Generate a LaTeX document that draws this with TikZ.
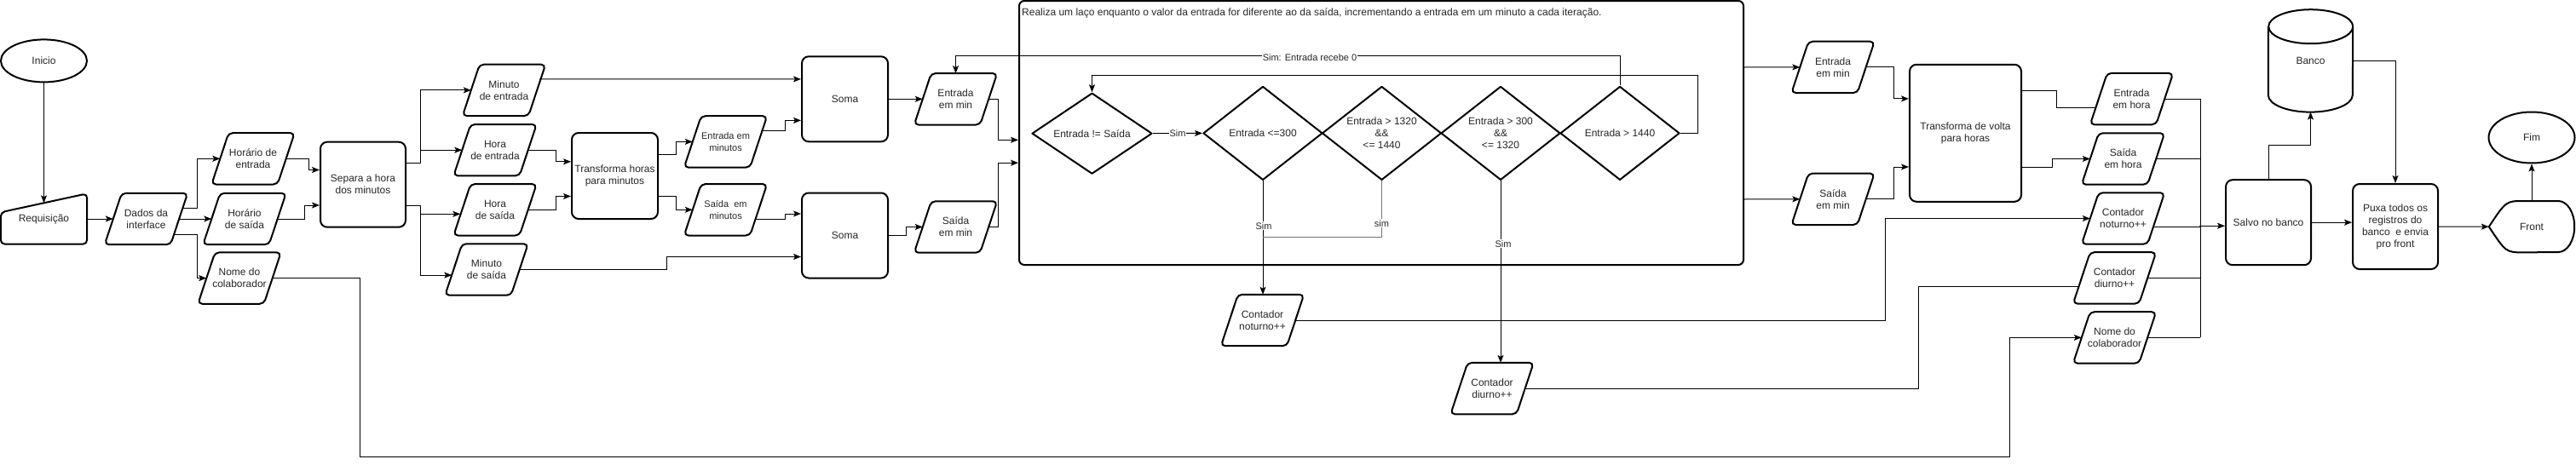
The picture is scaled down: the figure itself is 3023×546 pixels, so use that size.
\documentclass[tikz,border=0pt]{standalone}
\usepackage{fontspec}
\setmainfont{Liberation Sans}
\usetikzlibrary{shapes.geometric,arrows.meta}
\definecolor{txt}{HTML}{262626}
\tikzset{
  mainfont/.style={font=\fontsize{12}{14}\selectfont, text=txt},
  smallfont/.style={font=\fontsize{11}{13.5}\selectfont, text=txt},
  shp/.style={line width=2pt, line join=round},
  pshape/.style={shp, rounded corners=5pt},
  conn/.style={line width=1pt},
  arr/.style={conn, -{Stealth[length=9pt,width=7pt,inset=2pt]}},
  pnode/.style={rectangle, minimum width=77pt, minimum height=60pt, inner sep=0pt, align=center, mainfont},
  small/.style={smallfont},
  plain/.style={rectangle, inner sep=0pt, align=center, mainfont},
  box/.style={shp, draw, rectangle, rounded corners=8pt, minimum width=100pt, minimum height=100pt, inner sep=0pt, align=center, mainfont},
  term/.style={shp, draw, ellipse, minimum width=101pt, minimum height=50pt, inner sep=0pt, mainfont},
  dia/.style={shp, draw, diamond, minimum width=140pt, minimum height=110pt, aspect=1.27, inner sep=0pt, align=center, mainfont},
  cont/.style={shp, draw, rectangle, rounded corners=6pt, minimum width=850pt, minimum height=310pt, inner sep=0pt},
  lbl/.style={fill=white, inner sep=1pt, smallfont},
}
\newcommand\paral[4][]{%
  \node[pnode,#1] (#2) at (#3) {#4};
  \draw[pshape] ([xshift=-10pt]#2.south west) -- ([xshift=10pt]#2.north west) -- ([xshift=10pt]#2.north east) -- ([xshift=-10pt]#2.south east) -- cycle;
}
\begin{document}
\begin{tikzpicture}[x=1pt,y=-1pt]
\useasboundingbox (0,0) rectangle (3023,546);

% loop container
\node[cont] (loop) at (1621,156) {};
\node[anchor=west, mainfont, inner sep=0pt] (looptxt) at (1199,15) {Realiza um laço enquanto o valor da entrada for diferente ao da saída, incrementando a entrada em um minuto a cada iteração.};

% start
\node[term] (inicio) at (51.5,71.4) {Inicio};
\node[pnode, minimum width=101pt, minimum height=59pt] (req) at (51.5,257) {Requisição};
\draw[pshape] (req.south west) -- ([yshift=-22pt]req.north west) -- (req.north east) -- (req.south east) -- cycle;

\paral{dados}{171.5,257}{Dados da\\interface}
\paral{hent}{297,186.3}{Horário de\\entrada}
\paral{hsai}{287,257}{Horário\\de saída}
\paral{nome1}{281,326.6}{Nome do\\colaborador}
\node[box] (separa) at (426,216.7) {Separa a hora\\dos minutos};
\paral{minent}{591.5,105.9}{Minuto\\de entrada}
\paral{horaent}{581,176.2}{Hora\\de entrada}
\paral{horasai}{581,246.3}{Hora\\de saída}
\paral{minsai}{571,316.5}{Minuto\\de saída}
\node[box, minimum width=101pt, minimum height=101pt] (trans1) at (721.5,206.5) {Transforma horas\\para minutos};
\paral[small]{entmin1}{851.5,166.4}{Entrada em\\minutos}
\paral[small]{saimin1}{851.5,246.3}{Saída\ \ em\\minutos}
\node[box, minimum width=101pt] (soma1) at (991.5,116.3) {Soma};
\node[box, minimum width=101pt] (soma2) at (991.5,276.5) {Soma};
\paral{entmin2}{1121.5,116.3}{Entrada\\em min}
\paral{saimin2}{1121.5,266.5}{Saída\\em min}

% decisions
\node[dia, minimum width=141pt, minimum height=95pt, aspect=1.48] (d1) at (1281.5,156.7) {Entrada != Saída};
\node[dia] (d2) at (1482,156.4) {Entrada <=300};
\node[dia] (d3) at (1621.5,156.4) {Entrada > 1320\\\&\&\\<= 1440};
\node[dia] (d4) at (1761,156.4) {Entrada > 300\\\&\&\\<= 1320};
\node[dia] (d5) at (1901,156.4) {Entrada > 1440};

\paral{cnot1}{1481.5,376}{Contador\\noturno++}
\paral{cdiu1}{1751,456.1}{Contador\\diurno++}

\paral{entmin3}{2151,78.9}{Entrada\\em min}
\paral{saimin3}{2151,233.8}{Saída\\em min}
\node[box, minimum width=131pt, minimum height=161pt] (trans2) at (2306.5,156.3) {Transforma de volta\\para horas};

\paral{enthora}{2501.5,116.1}{Entrada\\em hora}
\paral{saihora}{2491.5,186.5}{Saída\\em hora}
\paral{cnot2}{2491.5,256.5}{Contador\\noturno++}
\paral{cdiu2}{2481.5,326.4}{Contador\\diurno++}
\paral{nome2}{2481.5,396.4}{Nome do\\colaborador}

\node[box] (salvo) at (2662,261.2) {Salvo no banco};
\node[plain, minimum width=99pt, minimum height=120pt] (banco) at (2711.5,71.4) {Banco};
\draw[shp] ([yshift=-20pt]banco.north west) -- ([yshift=20pt]banco.south west)
  arc[start angle=180, end angle=360, x radius=49.5pt, y radius=20pt]
  -- ([yshift=-20pt]banco.north east)
  arc[start angle=0, end angle=180, x radius=49.5pt, y radius=20pt]
  arc[start angle=180, end angle=360, x radius=49.5pt, y radius=20pt];
\node[box] (puxa) at (2811,266) {Puxa todos os\\registros do\\banco\ \ e envia\\pro front};
\node[plain, minimum width=100pt, minimum height=60pt] (front) at (2971,266.2) {Front};
\draw[shp] (front.west) .. controls ([xshift=20pt]front.north west) .. ([xshift=41pt]front.north west)
  -- ([xshift=-19pt]front.north east)
  arc[start angle=90, end angle=-90, x radius=19pt, y radius=30pt]
  -- ([xshift=41pt]front.south west) .. controls ([xshift=20pt]front.south west) .. (front.west) -- cycle;
\node[term, minimum height=60pt] (fim) at (2971,161.5) {Fim};

% connectors
\draw[arr] (inicio.south) -- ([yshift=-11pt]req.north);
\draw[arr] (req.east) -- (dados.west);
\draw[arr] ([shift={(4,-13)}]dados.east) -- ++(17,0) |- (hent.west);
\draw[arr] (dados.east) -- (hsai.west);
\draw[arr] ([shift={(-6,18)}]dados.east) -- ++(27,0) |- (nome1.west);
\draw[arr] (hent.east) -- ++(26.5,0) |- ([shift={(0,-17.2)}]separa.west);
\draw[arr] (hsai.east) -- ++(31.5,0) |- ([shift={(0,24.3)}]separa.west);
\draw[arr] ([shift={(0,-25.5)}]separa.east) -- ++(16,0) |- (minent.west);
\draw[arr] ([shift={(0,-25.5)}]separa.east) -- ++(16,0) |- (horaent.west);
\draw[arr] ([shift={(0,24.3)}]separa.east) -- ++(16,0) |- ([shift={(-2,5)}]horasai.west);
\draw[arr] ([shift={(0,24.3)}]separa.east) -- ++(16,0) |- ([shift={(-2,6.6)}]minsai.west);
\draw[arr] (horaent.east) -- ++(32.5,0) |- ([shift={(0,-16.7)}]trans1.west);
\draw[arr] (horasai.east) -- ++(32.5,0) |- ([shift={(0,24)}]trans1.west);
\draw[arr] ([shift={(0,-25.1)}]trans1.east) -- ++(20,0) |- (entmin1.west);
\draw[arr] ([shift={(0,24)}]trans1.east) -- ++(20,0) |- (saimin1.west);
\draw[arr] ([shift={(3,-13)}]minent.east) -- ([shift={(0,-23.4)}]soma1.west);
\draw[arr] ([shift={(3,-13.2)}]entmin1.east) -- ++(28,0) |- ([shift={(0,25.1)}]soma1.west);
\draw[arr] ([shift={(-3,10.7)}]saimin1.east) -- ++(34,0) |- ([shift={(0,-25.5)}]soma2.west);
\draw[arr] (minsai.east) -- ++(172.5,0) |- ([shift={(0,25)}]soma2.west);
\draw[arr] (soma1.east) -- (entmin2.west);
\draw[arr] (soma2.east) -- ++(20,0) |- (saimin2.west);
\draw[arr] (entmin2.east) -- ++(11.5,0) |- ([shift={(0,8.3)}]loop.west);
\draw[arr] (saimin2.east) -- ++(11.5,0) |- ([shift={(0,35.2)}]loop.west);

\draw[arr] (d1.east) -- (d2.west) node[lbl, midway] (ls1) {Sim};
\draw[arr] (d2.south) -- (d2.south |- cnot1.north);
\node[lbl] (ls2) at (1483,265.3) {Sim};
\coordinate (j1) at (1482,278.6);
\draw[conn, black!55] (d3.south) |- (j1);
\node[lbl] (ls3) at (1621.5,262.2) {sim};
\draw[arr] (d4.south) -- (d4.south |- cdiu1.north);
\node[lbl] (ls4) at (1764,286.2) {Sim};
\draw[arr] (d5.east) -- ++(20,0) -- ++(0,-68) -| (d1.north);
\draw[arr] (d5.north) -- ++(0,-35.2) -| (entmin2.north);
\node[lbl] (ls5) at (1537,68) {Sim: Entrada recebe 0};

\draw[arr] (cnot1.east) -- ++(692.5,0) |- (cnot2.west);
\draw[conn] (cdiu1.east) -- ++(461.5,0) |- ([shift={(-3,10)}]cdiu2.west);
\draw[arr] (nome1.east) -- ++(102.5,0) -- ++(0,209.6) -- ++(1936,0) |- (nome2.west);

\draw[arr] ([shift={(0,-77)}]loop.east) -- (entmin3.west);
\draw[arr] ([shift={(0,78)}]loop.east) -- (saimin3.west);
\draw[arr] (entmin3.east) -- ++(32.5,0) |- ([shift={(0,-40.4)}]trans2.west);
\draw[arr] (saimin3.east) -- ++(32.5,0) |- ([shift={(0,39.7)}]trans2.west);
\draw[conn] ([shift={(0,-50.1)}]trans2.east) -- ++(40,0) |- ([shift={(-3,10.3)}]enthora.west);
\draw[arr] ([shift={(0,39.7)}]trans2.east) -- ++(35,0) |- (saihora.west);

\coordinate (bus) at (2582,0);
\draw[conn] (enthora.east) -- (enthora.east -| bus);
\draw[conn] (saihora.east) -- (saihora.east -| bus);
\draw[conn] ([shift={(-3,9.9)}]cnot2.east) -- ++(55.3,0);
\draw[conn] (cdiu2.east) -- (cdiu2.east -| bus);
\draw[conn] (nome2.east) -- (nome2.east -| bus);
\draw[conn] (enthora.east -| bus) -- (nome2.east -| bus);
\draw[arr] ([shift={(-30,4)}]salvo.west) -- ([shift={(0,4)}]salvo.west);

\draw[arr] (salvo.north) -- ++(0,-40.1) -| (banco.south);
\draw[arr] (banco.east) -| (puxa.north);
\draw[arr] (salvo.east) -- (salvo.east -| puxa.west);
\draw[arr] (puxa.east) -- (front.west);
\draw[arr] (front.north) -- (fim.south);
\end{tikzpicture}
\end{document}
